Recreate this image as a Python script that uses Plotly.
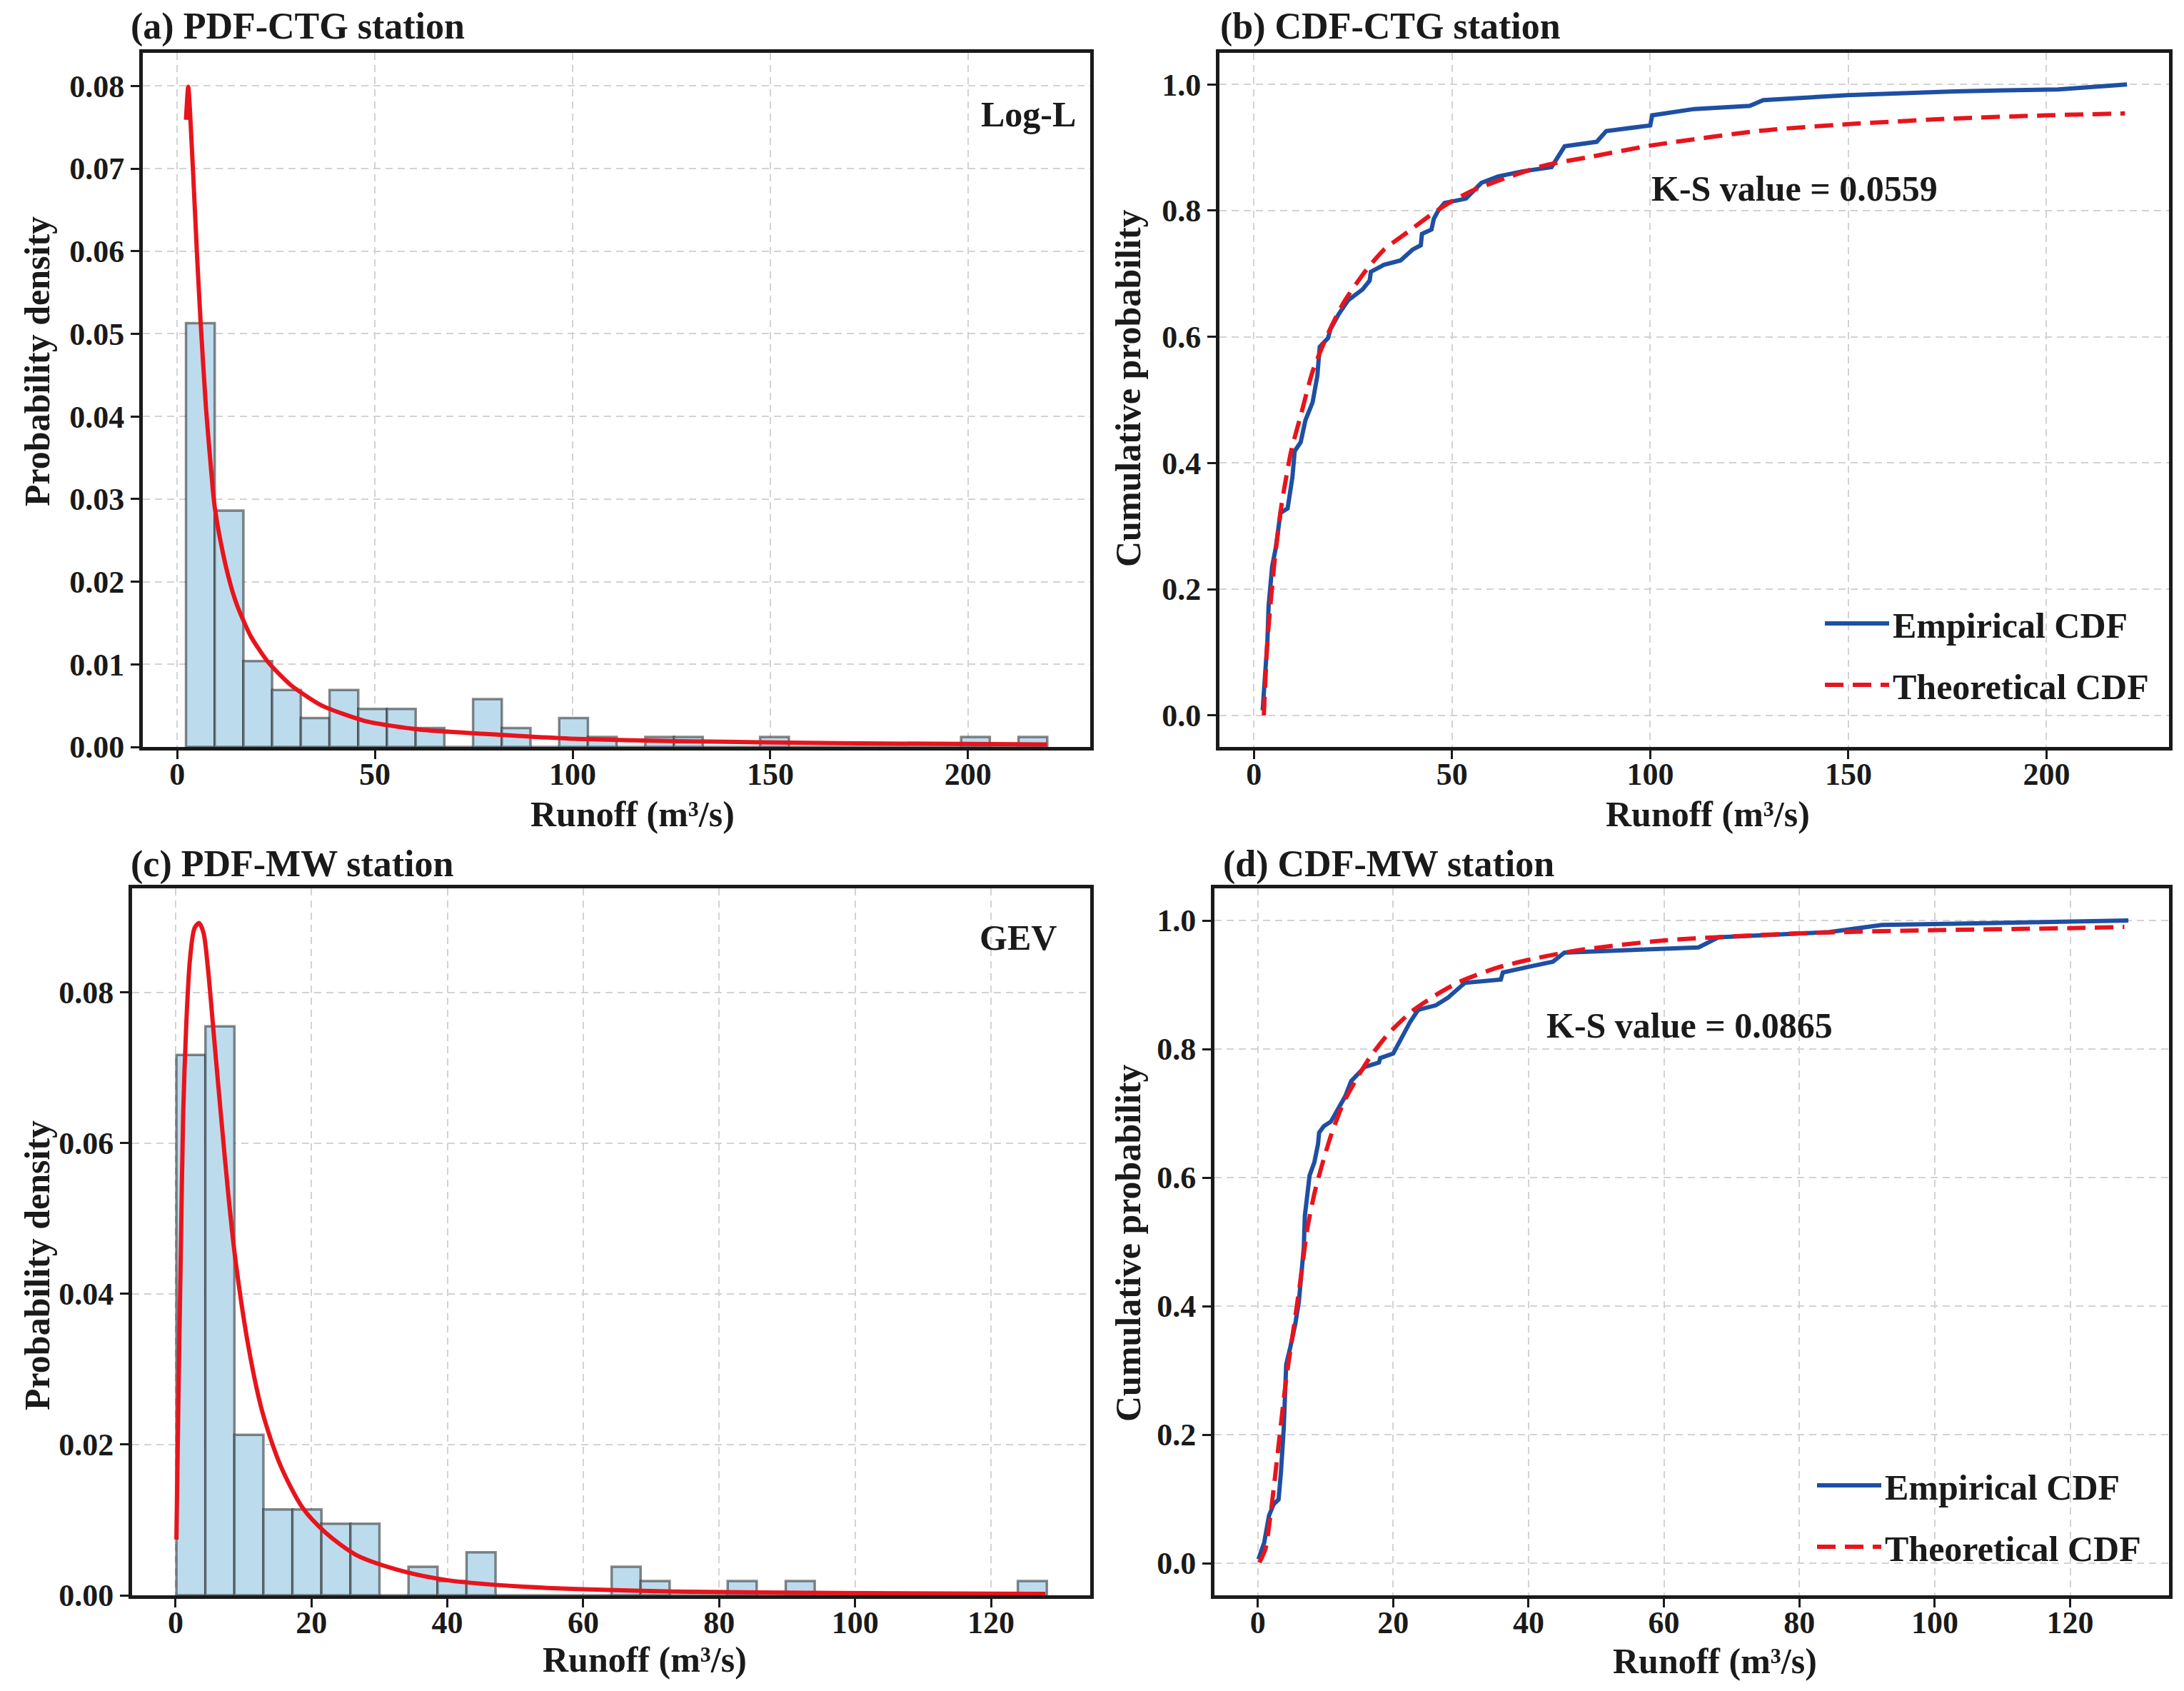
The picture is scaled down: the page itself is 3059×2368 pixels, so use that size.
import plotly.graph_objects as go

# ---------------- data ----------------
# (a) CTG station histogram (density), 30 equal bins
ctg_bin_start = 2.23
ctg_bin_width = 7.26
ctg_density = [0.0513, 0.0286, 0.0104, 0.0069, 0.0035, 0.0069, 0.0046, 0.0046, 0.0023, 0.0,
               0.0058, 0.0023, 0.0, 0.0035, 0.0012, 0.0, 0.0012, 0.0012, 0.0, 0.0,
               0.0012, 0.0, 0.0, 0.0, 0.0, 0.0, 0.0, 0.0012, 0.0, 0.0012]
# (a) fitted Log-logistic PDF
ctg_pdf_x = [2.23, 2.79, 3.92, 5.05, 5.95, 7.3, 9.0, 9.5, 10.6, 12.9, 15.1, 18.6, 23.1, 28.7,
             36.6, 47.8, 61.4, 77.1, 99.6, 126.7, 167.0, 220.0]
ctg_pdf_y = [0.0759, 0.0799, 0.0705, 0.0592, 0.0512, 0.0409, 0.0312, 0.0290, 0.0258, 0.0207,
             0.0172, 0.0134, 0.0102, 0.0075, 0.0050, 0.0031, 0.0021, 0.0016, 0.0010, 0.0007,
             0.00045, 0.0003]

# (b) CTG station CDFs
ctg_ecdf_x = [2.2, 3.4, 3.7, 4.6, 5.5, 6.7, 8.5, 9.7, 10.3, 11.8, 13.0, 14.8, 16.0, 16.6, 18.7,
              19.3, 21.4, 23.8, 27.4, 29.2, 29.5, 32.8, 37.0, 40.0, 42.1, 42.4, 44.8, 45.4, 46.6,
              48.1, 53.5, 57.4, 61.6, 67.6, 75.1, 78.4, 86.5, 88.9, 100.0, 100.5, 111.1, 125.1,
              128.5, 149.8, 176.8, 202.9, 220.3]
ctg_ecdf_y = [0.008, 0.117, 0.173, 0.236, 0.265, 0.321, 0.328, 0.377, 0.419, 0.433, 0.468, 0.496,
              0.538, 0.584, 0.598, 0.612, 0.636, 0.658, 0.675, 0.689, 0.703, 0.714, 0.721, 0.738,
              0.745, 0.763, 0.770, 0.787, 0.801, 0.812, 0.819, 0.844, 0.854, 0.862, 0.869, 0.902,
              0.909, 0.926, 0.935, 0.951, 0.961, 0.966, 0.975, 0.983, 0.989, 0.992, 1.0]
ctg_cdf_x = [2.5, 3.4, 5.2, 7.0, 9.4, 11.8, 14.8, 18.4, 22.6, 28.0, 32.8, 38.8, 44.8, 50.0, 55.6,
             64.6, 73.6, 85.6, 100.0, 128.5, 150.0, 176.8, 200.0, 219.8]
ctg_cdf_y = [0.0, 0.117, 0.244, 0.335, 0.419, 0.475, 0.545, 0.601, 0.654, 0.703, 0.738, 0.766,
             0.794, 0.815, 0.833, 0.854, 0.872, 0.886, 0.903, 0.927, 0.937, 0.946, 0.951, 0.954]
ctg_ks = "K-S value = 0.0559"

# (c) MW station histogram (density), 30 equal bins
mw_bin_start = 0.12
mw_bin_width = 4.27
mw_density = [0.0717, 0.0755, 0.0213, 0.0114, 0.0114, 0.0095, 0.0095, 0.0, 0.0038, 0.0019,
              0.0057, 0.0, 0.0, 0.0, 0.0, 0.0038, 0.0019, 0.0, 0.0, 0.0019,
              0.0, 0.0019, 0.0, 0.0, 0.0, 0.0, 0.0, 0.0, 0.0, 0.0019]
# (c) fitted GEV PDF
mw_pdf_x = [0.12, 0.45, 0.78, 1.12, 1.58, 2.11, 2.78, 3.45, 4.11, 4.77, 5.77, 6.78, 7.77, 8.77,
            10.76, 12.75, 15.4, 18.7, 22.1, 26.7, 33.4, 40.0, 50.0, 60.0, 73.3, 97.2, 128.0]
mw_pdf_y = [0.0074, 0.0280, 0.0460, 0.0639, 0.0759, 0.0843, 0.0885, 0.0892, 0.0879, 0.0831,
            0.0729, 0.0627, 0.0531, 0.0448, 0.0328, 0.0244, 0.0173, 0.0116, 0.0083, 0.0053,
            0.0032, 0.0020, 0.0012, 0.0008, 0.0005, 0.0003, 0.0002]

# (d) MW station CDFs
mw_ecdf_x = [0.1, 0.42, 0.95, 1.66, 2.36, 3.07, 3.42, 3.84, 4.06, 4.2, 4.83, 5.54, 6.07, 6.4,
             6.8, 6.95, 7.3, 7.65, 8.36, 8.9, 9.06, 9.77, 10.8, 11.9, 12.9, 13.8, 15.8, 17.9,
             18.1, 20.0, 21.1, 22.5, 23.7, 26.3, 28.1, 29.9, 30.6, 35.9, 36.2, 40.5, 43.6, 45.3,
             65.1, 68.1, 84.4, 92.2, 107.2, 128.6]
mw_ecdf_y = [0.006, 0.015, 0.032, 0.074, 0.092, 0.099, 0.141, 0.211, 0.281, 0.309, 0.337, 0.372,
             0.407, 0.449, 0.491, 0.540, 0.575, 0.603, 0.624, 0.652, 0.670, 0.680, 0.687, 0.708,
             0.726, 0.750, 0.772, 0.779, 0.786, 0.793, 0.814, 0.842, 0.861, 0.868, 0.880, 0.898,
             0.903, 0.908, 0.919, 0.929, 0.936, 0.950, 0.958, 0.974, 0.982, 0.993, 0.996, 1.0]
mw_cdf_x = [0.25, 1.13, 2.0, 3.07, 4.13, 5.19, 6.24, 7.3, 8.36, 9.42, 10.83, 12.6, 14.4, 16.5,
            19.3, 22.8, 26.3, 29.9, 35.2, 40.5, 47.5, 60.0, 80.0, 100.0, 120.0, 128.0]
mw_cdf_y = [0.001, 0.022, 0.085, 0.183, 0.281, 0.358, 0.435, 0.519, 0.575, 0.617, 0.666, 0.715,
            0.750, 0.786, 0.824, 0.859, 0.884, 0.905, 0.926, 0.940, 0.954, 0.969, 0.980, 0.985,
            0.988, 0.990]
mw_ks = "K-S value = 0.0865"

panel_titles = ["(a) PDF-CTG station", "(b) CDF-CTG station",
                "(c) PDF-MW station", "(d) CDF-MW station"]
dist_labels = ["Log-L", "GEV"]
x_title = "Runoff (m³/s)"
pdf_y_title = "Probability density"
cdf_y_title = "Cumulative probability"
legend_names = ["Empirical CDF", "Theoretical CDF"]

# ---------------- styling ----------------
W, H = 3059, 2368
FONT = "Liberation Serif"
INK = "#1a1a1a"
RED = "#e8141c"
BLUE = "#1e4fa3"
BAR_FILL = "#bcdcee"
BAR_EDGE = "rgba(40,40,40,0.55)"
GRID = "#d3d3d3"

def px_x(p):
    return p / W

def px_y(p):
    return 1 - p / H

fig = go.Figure()

def bar_centers(start, width, n):
    return [start + width * (i + 0.5) for i in range(n)]

# (a)
fig.add_trace(go.Bar(x=bar_centers(ctg_bin_start, ctg_bin_width, len(ctg_density)), y=ctg_density,
                     width=ctg_bin_width, marker=dict(color=BAR_FILL, line=dict(color=BAR_EDGE, width=3.5)),
                     xaxis="x", yaxis="y", showlegend=False))
fig.add_trace(go.Scatter(x=ctg_pdf_x, y=ctg_pdf_y, mode="lines",
                         line=dict(color=RED, width=6, shape="spline", smoothing=0.6),
                         xaxis="x", yaxis="y", showlegend=False))
# (b)
fig.add_trace(go.Scatter(x=ctg_ecdf_x, y=ctg_ecdf_y, mode="lines", name=legend_names[0],
                         line=dict(color=BLUE, width=6), xaxis="x2", yaxis="y2",
                         legend="legend", legendgroup="b1"))
fig.add_trace(go.Scatter(x=ctg_cdf_x, y=ctg_cdf_y, mode="lines", name=legend_names[1],
                         line=dict(color=RED, width=6, dash="26px,13px", shape="spline", smoothing=0.6),
                         xaxis="x2", yaxis="y2", legend="legend", legendgroup="b2"))
# (c)
fig.add_trace(go.Bar(x=bar_centers(mw_bin_start, mw_bin_width, len(mw_density)), y=mw_density,
                     width=mw_bin_width, marker=dict(color=BAR_FILL, line=dict(color=BAR_EDGE, width=3.5)),
                     xaxis="x3", yaxis="y3", showlegend=False))
fig.add_trace(go.Scatter(x=mw_pdf_x, y=mw_pdf_y, mode="lines",
                         line=dict(color=RED, width=6, shape="spline", smoothing=0.8),
                         xaxis="x3", yaxis="y3", showlegend=False))
# (d)
fig.add_trace(go.Scatter(x=mw_ecdf_x, y=mw_ecdf_y, mode="lines", name=legend_names[0],
                         line=dict(color=BLUE, width=6), xaxis="x4", yaxis="y4",
                         legend="legend2", legendgroup="d1"))
fig.add_trace(go.Scatter(x=mw_cdf_x, y=mw_cdf_y, mode="lines", name=legend_names[1],
                         line=dict(color=RED, width=6, dash="26px,13px", shape="spline", smoothing=0.6),
                         xaxis="x4", yaxis="y4", legend="legend2", legendgroup="d2"))

tickfont = dict(family=FONT, size=44, color=INK, weight="bold")
titlefont = dict(family=FONT, size=50, color=INK, weight="bold")

def axis(domain, rng, dtick, fmt, anchor, label_shift):
    return dict(domain=domain, range=rng, dtick=dtick, tick0=0, tickformat=fmt,
                showline=True, mirror=True, linecolor=INK, linewidth=5,
                ticks="outside", ticklen=12, tickwidth=3, tickcolor=INK,
                ticklabelstandoff=label_shift,
                showgrid=True, gridcolor=GRID, gridwidth=2, griddash="10px,7px",
                zeroline=False, tickfont=tickfont, anchor=anchor,
                automargin=False)

xa = [px_x(200), px_x(1527)]
xb = [px_x(1708), px_x(3038)]
xc = [px_x(185), px_x(1527)]
xd = [px_x(1701), px_x(3038)]
ytop = [px_y(1046), px_y(74)]
ybot = [px_y(2234), px_y(1244)]

legend_font = dict(family=FONT, size=50, color=INK, weight="bold")
fig.update_layout(
    width=W, height=H, autosize=False,
    margin=dict(l=0, r=0, t=0, b=0),
    paper_bgcolor="white", plot_bgcolor="white",
    barmode="overlay",
    font=dict(family=FONT, color=INK),
    xaxis=axis(xa, [-8.7, 230.9], 50, "d", "y", -17),
    yaxis=axis(ytop, [0, 0.084], 0.01, ".2f", "x", 0),
    xaxis2=axis(xb, [-8.7, 230.9], 50, "d", "y2", -17),
    yaxis2=axis(ytop, [-0.05, 1.05], 0.2, ".1f", "x2", 0),
    xaxis3=axis(xc, [-6.4, 134.6], 20, "d", "y3", -17),
    yaxis3=axis(ybot, [0, 0.0938], 0.02, ".2f", "x3", 0),
    xaxis4=axis(xd, [-6.4, 134.6], 20, "d", "y4", -17),
    yaxis4=axis(ybot, [-0.05, 1.05], 0.2, ".1f", "x4", 0),
    legend=dict(x=px_x(3015), xanchor="right", y=px_y(834), yanchor="top",
                bgcolor="rgba(0,0,0,0)", borderwidth=0, itemwidth=90, tracegroupgap=18,
                font=legend_font),
    legend2=dict(x=px_x(3004), xanchor="right", y=px_y(2041), yanchor="top",
                 bgcolor="rgba(0,0,0,0)", borderwidth=0, itemwidth=90, tracegroupgap=18,
                 font=legend_font),
)

ann_font = dict(family=FONT, size=52, color=INK, weight="bold")
text_font = dict(family=FONT, size=50, color=INK, weight="bold")

def paper_text(text, x, y, font, xanchor="left", angle=0):
    return dict(text=text, x=px_x(x), y=px_y(y), xref="paper", yref="paper",
                xanchor=xanchor, yanchor="middle", showarrow=False, font=font, textangle=angle)

annotations = [
    paper_text(panel_titles[0], 181, 37, ann_font),
    paper_text(panel_titles[1], 1707, 37, ann_font),
    paper_text(panel_titles[2], 181, 1210, ann_font),
    paper_text(panel_titles[3], 1711, 1210, ann_font),
    # axis titles
    paper_text(x_title, 886, 1140, titlefont, "center"),
    paper_text(x_title, 2392, 1140, titlefont, "center"),
    paper_text(x_title, 903, 2324, titlefont, "center"),
    paper_text(x_title, 2402, 2326, titlefont, "center"),
    paper_text(pdf_y_title, 52, 506, titlefont, "center", -90),
    paper_text(cdf_y_title, 1580, 544, titlefont, "center", -90),
    paper_text(pdf_y_title, 52, 1772, titlefont, "center", -90),
    paper_text(cdf_y_title, 1580, 1741, titlefont, "center", -90),
    # in-plot labels
    dict(text=dist_labels[0], x=0.883, y=0.912, xref="x domain", yref="y domain",
         xanchor="left", yanchor="middle", showarrow=False, font=text_font),
    dict(text=dist_labels[1], x=0.883, y=0.930, xref="x3 domain", yref="y3 domain",
         xanchor="left", yanchor="middle", showarrow=False, font=text_font),
    dict(text=ctg_ks, x=100, y=0.835, xref="x2", yref="y2",
         xanchor="left", yanchor="middle", showarrow=False, font=text_font),
    dict(text=mw_ks, x=42.4, y=0.837, xref="x4", yref="y4",
         xanchor="left", yanchor="middle", showarrow=False, font=text_font),
]
fig.update_layout(annotations=annotations)

fig.write_html("out.html", config={"displayModeBar": False},
               post_script="document.body.style.margin='0';")
